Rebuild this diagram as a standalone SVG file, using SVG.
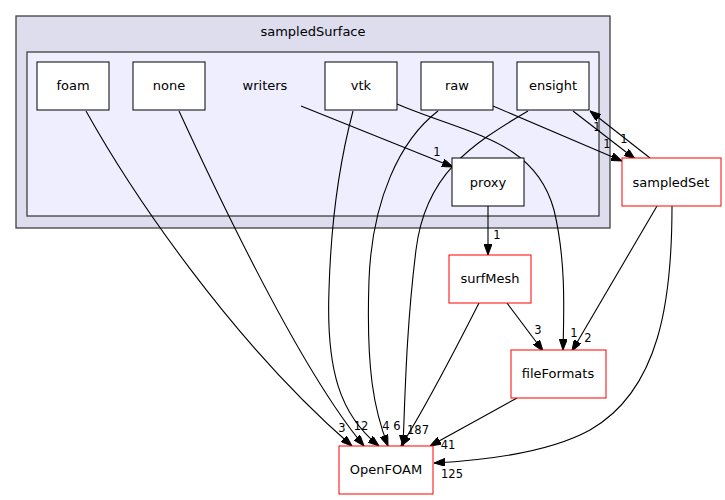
<svg xmlns="http://www.w3.org/2000/svg" width="725" height="500" viewBox="0 0 725 500">
<defs>
<marker id="ah" viewBox="0 0 11 8" refX="11" refY="4" markerWidth="11" markerHeight="8" markerUnits="userSpaceOnUse" orient="auto">
<path d="M0,0 L11,4 L0,8 Z" fill="#000" stroke="#000" stroke-width="1"/>
</marker>
<style>
text{font-family:"DejaVu Sans","Liberation Sans",sans-serif;fill:#000}
.n{font-size:13px;text-anchor:middle}
.l{font-size:11.5px;text-anchor:middle}
.box{fill:#fff;stroke:#000;stroke-width:1}
.red{fill:#fff;stroke:#ff0000;stroke-width:1}
.e{fill:none;stroke:#000;stroke-width:1.1;marker-end:url(#ah)}
</style>
</defs>
<rect width="725" height="500" fill="#fff"/>
<g id="cluster_sampledSurface">
<rect x="16" y="16" width="594" height="212" fill="#ddddee" stroke="#404040" stroke-width="1.3"/>
<text class="n" x="313" y="36">sampledSurface</text>
</g>
<g id="cluster_writers">
<rect x="27" y="52" width="572" height="164" fill="#eeeeff" stroke="#404040" stroke-width="1.3"/>
<text class="n" x="265" y="90">writers</text>
</g>
<g id="connectors">
<path class="e" d="M86,111 C130,190 230,340 352,446"/>
<text class="l" x="342" y="432">3</text>
<path class="e" d="M179,111 C220,200 300,370 364,446"/>
<text class="l" x="361" y="430">12</text>
<path class="e" d="M301,106 L453,167"/>
<text class="l" x="437" y="156">1</text>
<path class="e" d="M353,111 C340,160 331,220 329,290 C326,370 340,415 379,446"/>
<text class="l" x="386" y="430">4</text>
<path class="e" d="M438,111 C400,140 372,200 369,280 C366,370 374,410 388,446"/>
<text class="l" x="397" y="430">6</text>
<path class="e" d="M528,111 C470,145 425,175 416,250 C406,330 405,400 403,446"/>
<text class="l" x="418" y="434">187</text>
<path class="e" d="M397,104 C470,135 535,140 554,210 C566,260 564,310 563,350"/>
<text class="l" x="574" y="337">1</text>
<path class="e" d="M493,106 L622,161"/>
<text class="l" x="607" y="148">1</text>
<path class="e" d="M573,111 L635,159"/>
<text class="l" x="597" y="131">1</text>
<path class="e" d="M650,158 L590,111"/>
<text class="l" x="624" y="143">1</text>
<path class="e" d="M488,206 L488,255"/>
<text class="l" x="497" y="239">1</text>
<path class="e" d="M479,303 C460,340 430,400 401,446"/>
<path class="e" d="M507,303 L543,351"/>
<text class="l" x="538" y="334">3</text>
<path class="e" d="M657,206 L572,351"/>
<text class="l" x="588" y="342">2</text>
<path class="e" d="M672,206 C672,300 660,390 590,430 C550,452 490,460 434,463"/>
<text class="l" x="452" y="478">125</text>
<path class="e" d="M517,398 L430,446"/>
<text class="l" x="448" y="449">41</text>
</g>
<g id="foam"><rect class="box" x="37" y="62" width="72" height="48"/><text class="n" x="73" y="90">foam</text></g>
<g id="none"><rect class="box" x="133" y="62" width="72" height="48"/><text class="n" x="169" y="90">none</text></g>
<g id="vtk"><rect class="box" x="325" y="62" width="72" height="48"/><text class="n" x="361" y="90">vtk</text></g>
<g id="raw"><rect class="box" x="421" y="62" width="72" height="48"/><text class="n" x="457" y="90">raw</text></g>
<g id="ensight"><rect class="box" x="517" y="62" width="72" height="48"/><text class="n" x="553" y="90">ensight</text></g>
<g id="proxy"><rect class="box" x="452" y="158" width="72" height="48"/><text class="n" x="488" y="187">proxy</text></g>
<g id="sampledSet"><rect class="red" x="622" y="158" width="99" height="48"/><text class="n" x="671" y="187">sampledSet</text></g>
<g id="surfMesh"><rect class="red" x="449" y="255" width="82" height="48"/><text class="n" x="490" y="283">surfMesh</text></g>
<g id="fileFormats"><rect class="red" x="511" y="350" width="95" height="48"/><text class="n" x="558" y="378">fileFormats</text></g>
<g id="OpenFOAM"><rect class="red" x="339" y="446" width="94" height="48"/><text class="n" x="386" y="474">OpenFOAM</text></g>
</svg>
